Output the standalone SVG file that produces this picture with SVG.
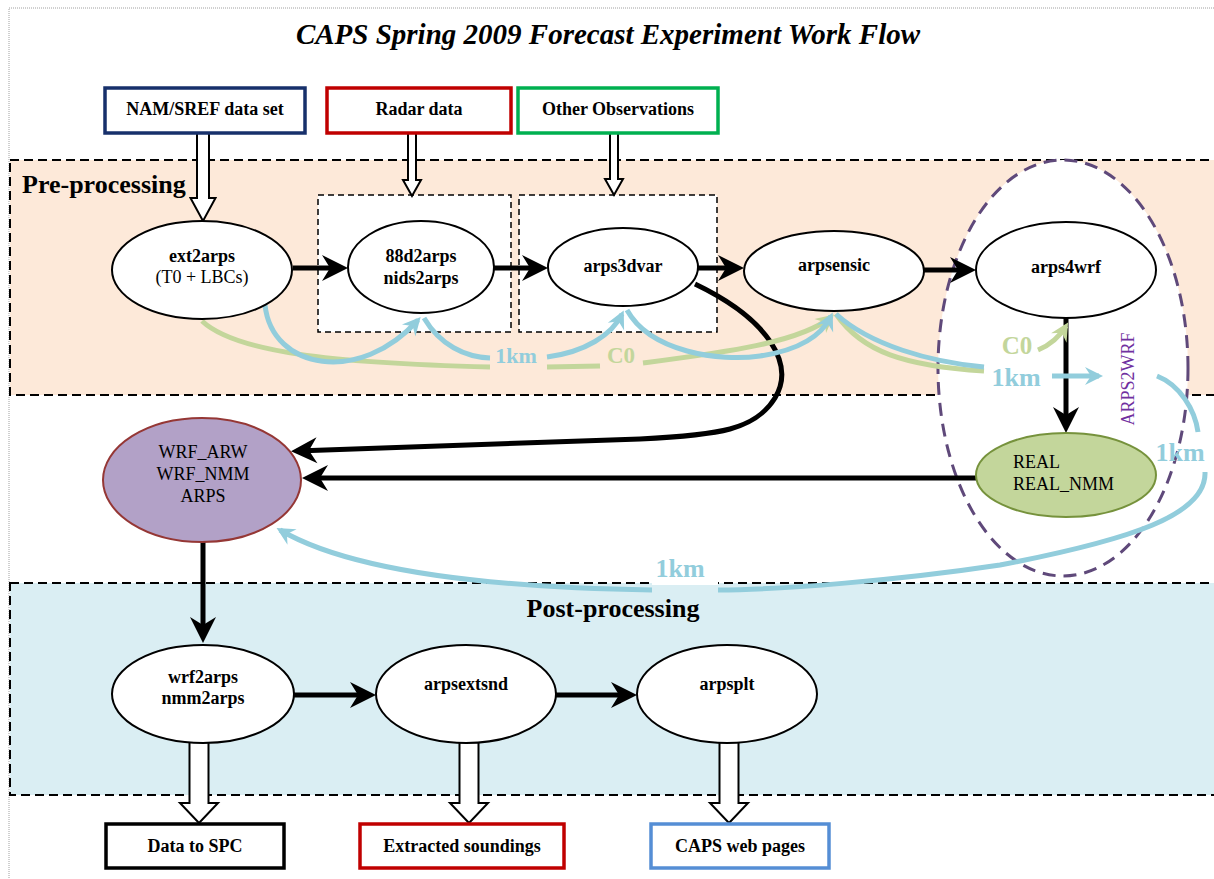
<svg xmlns="http://www.w3.org/2000/svg" width="1214" height="879" viewBox="0 0 1214 879">
<style>
text{font-family:"Liberation Serif","Times New Roman",serif;fill:#000}
.b{font-weight:bold}
.t18{font-size:18px}
.mid{text-anchor:middle}
.ell{fill:#fff;stroke:#000;stroke-width:2}
.band{stroke:#000;stroke-width:2;stroke-dasharray:9 5}
.dbox{fill:#fff;stroke:#000;stroke-width:1.5;stroke-dasharray:6 4}
.hollow{fill:#fff;stroke:#000;stroke-width:2;stroke-linejoin:miter}
.blk{fill:none;stroke:#000;stroke-width:5}
.blu{fill:none;stroke:#92cddc;stroke-width:5}
.grn{fill:none;stroke:#c3d69b;stroke-width:5}
.lblb{fill:#92cddc;font-weight:bold}
.lblg{fill:#c3d69b;font-weight:bold}
.box{fill:#fff;stroke-width:3.5}
</style>
<defs>
<marker id="ak" markerUnits="userSpaceOnUse" markerWidth="30" markerHeight="30" viewBox="-28 -15 30 30" refX="-6" refY="0" orient="auto"><path d="M0,0 L-26,-13 L-18,0 L-26,13 Z" fill="#000"/></marker>
<marker id="ab" markerUnits="userSpaceOnUse" markerWidth="22" markerHeight="22" viewBox="-20 -11 22 22" refX="-4" refY="0" orient="auto"><path d="M0,0 L-18,-9 L-12,0 L-18,9 Z" fill="#92cddc"/></marker>
<marker id="ag" markerUnits="userSpaceOnUse" markerWidth="22" markerHeight="22" viewBox="-20 -11 22 22" refX="-4" refY="0" orient="auto"><path d="M0,0 L-18,-9 L-12,0 L-18,9 Z" fill="#c3d69b"/></marker>
</defs>

<rect x="9" y="8" width="1220" height="890" fill="none" stroke="#a0a0a0" stroke-width="1" stroke-dasharray="1 1"/>

<text class="b mid" x="608" y="44" font-size="29" font-style="italic">CAPS Spring 2009 Forecast Experiment Work Flow</text>

<g id="bands">
<rect class="band" x="10" y="160" width="1220" height="235" fill="#fde9d9"/>
<rect class="band" x="10" y="583" width="1220" height="212" fill="#daeef3"/>
<text class="b" x="22" y="193" font-size="26">Pre-processing</text>
<text class="b mid" x="613" y="617" font-size="26">Post-processing</text>
</g>

<g id="containers">
<rect class="dbox" x="318" y="195" width="193" height="137"/>
<rect class="dbox" x="519" y="195" width="198" height="137"/>
<ellipse id="arps2wrf-group" cx="1063" cy="368" rx="125" ry="208" fill="#fff" stroke="#5f497a" stroke-width="3" stroke-dasharray="13 8"/>
<text x="1134" y="379" font-size="18" class="mid" style="fill:#7030a0" transform="rotate(-90 1134 379)">ARPS2WRF</text>
</g>

<g id="connectors">
<polygon class="hollow" points="197,133 209,133 209,198 215.5,198 203,221 190.5,198 197,198"/>
<polygon class="hollow" points="408,133 416,133 416,180 421,180 412,196 403,180 408,180"/>
<polygon class="hollow" points="610,133 618,133 618,179 623,179 614,195 605,179 610,179"/>
<polygon class="hollow" points="189.5,740 208.5,740 208.5,803 218,803 199,823 180,803 189.5,803"/>
<polygon class="hollow" points="459.5,740 478.5,740 478.5,803 488,803 469,823 450,803 459.5,803"/>
<polygon class="hollow" points="719.5,740 738.5,740 738.5,803 748,803 729,823 710,803 719.5,803"/>

<path class="blk" d="M293 268 L342 268" marker-end="url(#ak)"/>
<path class="blk" d="M494 268 L542 268" marker-end="url(#ak)"/>
<path class="blk" d="M698 268 L738 268" marker-end="url(#ak)"/>
<path class="blk" d="M924 270 L970 270" marker-end="url(#ak)"/>
<path class="blk" d="M1066 318 L1066 427" marker-end="url(#ak)"/>
<path class="blk" d="M976 478 L308 478" marker-end="url(#ak)"/>
<path class="blk" d="M695 284 C770 320 795 365 775 398 C755 430 720 435 640 439 L297 451" marker-end="url(#ak)"/>
<path class="blk" d="M203 520 L203 637" marker-end="url(#ak)"/>
<path class="blk" d="M292 695 L370 695" marker-end="url(#ak)"/>
<path class="blk" d="M556 695 L631 695" marker-end="url(#ak)"/>

<path class="grn" d="M202 321 C235 352 330 363 490 367"/>
<path class="grn" d="M547 367 L600 366"/>
<path class="grn" d="M643 363 C720 353 800 343 831 317" marker-end="url(#ag)"/>
<path class="grn" d="M836 314 C862 352 905 366 984 371"/>
<path class="grn" d="M1038 350 C1050 345 1060 336 1066 326" marker-end="url(#ag)"/>

<path class="blu" d="M265 305 C272 370 360 385 418 320" marker-end="url(#ab)"/>
<path class="blu" d="M424 318 C440 345 465 357 490 358"/>
<path class="blu" d="M547 357 C585 352 612 335 622 314" marker-end="url(#ab)"/>
<path class="blu" d="M627 310 C650 352 720 362 760 356 C800 350 822 335 831 316" marker-end="url(#ab)"/>
<path class="blu" d="M836 314 C870 345 930 362 984 367"/>
<path class="blu" d="M1052 376 L1099 376" marker-end="url(#ab)"/>
<path class="blu" d="M1157 376 C1180 385 1195 410 1198 432"/>
<path class="blu" d="M1205 472 C1207 515 1130 540 1000 565 C900 580 780 590 718 590"/>
<path class="blu" d="M652 590 C520 588 360 577 280 530" marker-end="url(#ab)"/>
</g>

<g id="labels">
<text class="lblb mid" x="516" y="363" font-size="22">1km</text>
<text class="lblg mid" x="621" y="363" font-size="23">C0</text>
<text class="lblb mid" x="1016" y="386" font-size="26">1km</text>
<text class="lblg mid" x="1017" y="354" font-size="25">C0</text>
<text class="lblb mid" x="1180" y="461" font-size="26">1km</text>
<rect x="652" y="560" width="66" height="25" fill="#fff"/>
<text class="lblb mid" x="680" y="577" font-size="26">1km</text>
</g>

<g id="nam-sref">
<rect class="box" x="105" y="88" width="200" height="45" stroke="#17306b"/>
<text class="b t18 mid" x="205" y="115">NAM/SREF data set</text>
</g>
<g id="radar">
<rect class="box" x="327" y="88" width="184" height="45" stroke="#c00000"/>
<text class="b t18 mid" x="419" y="115">Radar data</text>
</g>
<g id="other-obs">
<rect class="box" x="518" y="88" width="200" height="45" stroke="#00b050"/>
<text class="b t18 mid" x="618" y="115">Other Observations</text>
</g>

<g id="ext2arps">
<ellipse class="ell" cx="202" cy="270" rx="90" ry="49"/>
<text class="b t18 mid" x="202" y="262">ext2arps</text>
<text class="t18 mid" x="202" y="283">(T0 + LBCs)</text>
</g>
<g id="n88d2arps">
<ellipse class="ell" cx="421" cy="267" rx="73" ry="46"/>
<text class="b t18 mid" x="421" y="262">88d2arps</text>
<text class="b t18 mid" x="421" y="284">nids2arps</text>
</g>
<g id="arps3dvar">
<ellipse class="ell" cx="623" cy="267" rx="75" ry="39"/>
<text class="b t18 mid" x="623" y="272">arps3dvar</text>
</g>
<g id="arpsensic">
<ellipse class="ell" cx="834" cy="271" rx="90" ry="40"/>
<text class="b t18 mid" x="834" y="271">arpsensic</text>
</g>
<g id="arps4wrf">
<ellipse class="ell" cx="1066" cy="270" rx="90" ry="48"/>
<text class="b t18 mid" x="1066" y="273">arps4wrf</text>
</g>
<g id="real">
<ellipse cx="1066" cy="475" rx="90" ry="42" fill="#c3d69b" stroke="#76923c" stroke-width="2"/>
<text class="t18" x="1013" y="468">REAL</text>
<text class="t18" x="1013" y="490">REAL_NMM</text>
</g>
<g id="wrf">
<ellipse cx="202" cy="480" rx="99" ry="62" fill="#b2a1c7" stroke="#953735" stroke-width="2"/>
<text class="t18 mid" x="203" y="458">WRF_ARW</text>
<text class="t18 mid" x="203" y="480">WRF_NMM</text>
<text class="t18 mid" x="203" y="502">ARPS</text>
</g>
<g id="wrf2arps">
<ellipse class="ell" cx="203" cy="694" rx="91" ry="49"/>
<text class="b t18 mid" x="203" y="683">wrf2arps</text>
<text class="b t18 mid" x="203" y="704">nmm2arps</text>
</g>
<g id="arpsextsnd">
<ellipse class="ell" cx="466" cy="694" rx="90" ry="49"/>
<text class="b t18 mid" x="466" y="690">arpsextsnd</text>
</g>
<g id="arpsplt">
<ellipse class="ell" cx="727" cy="694" rx="90" ry="49"/>
<text class="b t18 mid" x="727" y="690">arpsplt</text>
</g>

<g id="data-spc">
<rect class="box" x="106" y="824" width="178" height="44" stroke="#000"/>
<text class="b t18 mid" x="195" y="852">Data to SPC</text>
</g>
<g id="soundings">
<rect class="box" x="360" y="824" width="204" height="44" stroke="#c00000"/>
<text class="b t18 mid" x="462" y="852">Extracted soundings</text>
</g>
<g id="caps-web">
<rect class="box" x="651" y="824" width="178" height="44" stroke="#558ed5"/>
<text class="b t18 mid" x="740" y="852">CAPS web pages</text>
</g>
</svg>
